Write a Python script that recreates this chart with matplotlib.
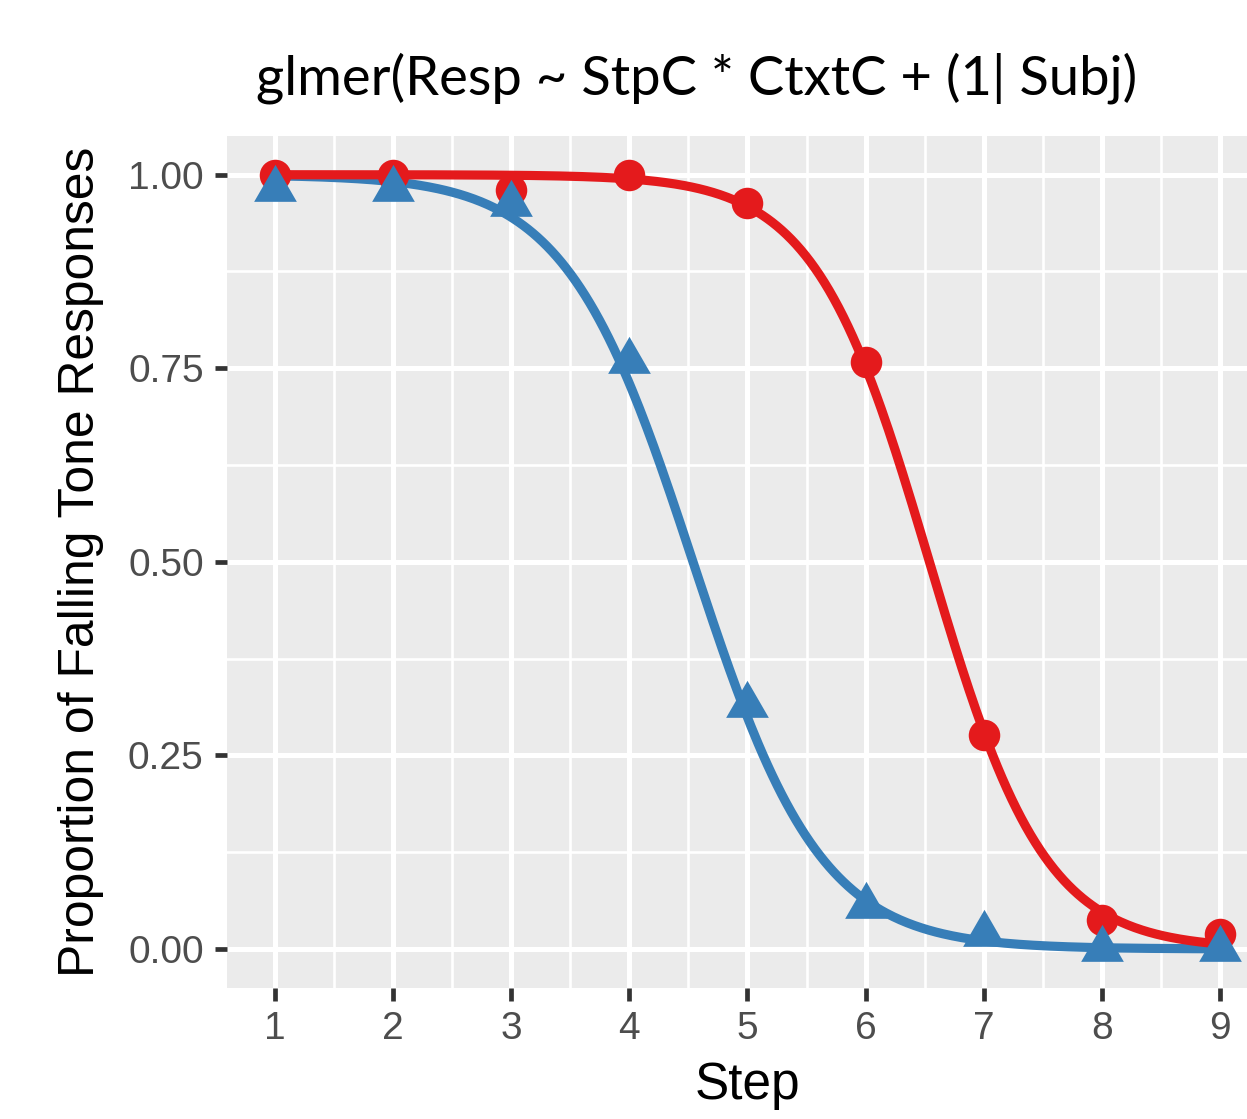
import numpy as np
import matplotlib.pyplot as plt
from matplotlib.path import Path

# data
steps = [1, 2, 3, 4, 5, 6, 7, 8, 9]
red_props = [1.00, 1.00, 0.98, 1.00, 0.963, 0.758, 0.277, 0.037, 0.020]
blue_props = [0.981, 0.981, 0.962, 0.759, 0.315, 0.056, 0.019, 0.0, 0.0]

# logistic fit lines (midpoint, slope on step scale)
red_fit = [6.54, 2.05]
blue_fit = [4.54, 1.85]

y_ticks = [0.0, 0.25, 0.5, 0.75, 1.0]
y_ticklabels = ['0.00', '0.25', '0.50', '0.75', '1.00']

title = 'glmer(Resp ~ StpC * CtxtC + (1| Subj)'
xlabel = 'Step'
ylabel = 'Proportion of Falling Tone Responses'

RED = '#E41A1C'
BLUE = '#377EB8'

# equilateral triangle like R's pch 17, centred on its centroid
tri = Path([(0, 1.555), (1.347, -0.778), (-1.347, -0.778), (0, 1.555)],
           [Path.MOVETO, Path.LINETO, Path.LINETO, Path.CLOSEPOLY])

plt.rcParams['font.family'] = ['Liberation Sans', 'DejaVu Sans']

fig = plt.figure(figsize=(12.47, 11.19), dpi=100)
ax = fig.add_axes([227.3 / 1247, 131.3 / 1119, 1040.2 / 1247, 851.7 / 1119])
ax.set_facecolor('#EBEBEB')
for s in ax.spines.values():
    s.set_visible(False)

ax.set_xlim(0.6, 9.4)
ax.set_ylim(-0.05, 1.05)
ax.set_xticks(steps)
ax.set_yticks(y_ticks)
ax.set_yticklabels(y_ticklabels)
ax.set_xticks(np.arange(1.5, 9.5, 1.0), minor=True)
ax.set_yticks(np.arange(0.125, 1.0, 0.25), minor=True)
ax.grid(True, which='major', color='white', linewidth=3.6)
ax.grid(True, which='minor', color='white', linewidth=1.9)
ax.set_axisbelow(True)
ax.tick_params(which='major', length=9, width=3.4, color='#333333',
               labelsize=28, labelcolor='#4D4D4D', pad=8)
ax.tick_params(which='minor', length=0)

xs = np.linspace(steps[0], steps[-1], 400)
red_curve = 1 / (1 + np.exp(red_fit[1] * (xs - red_fit[0])))
blue_curve = 1 / (1 + np.exp(blue_fit[1] * (xs - blue_fit[0])))
ax.plot(xs, blue_curve, color=BLUE, linewidth=6.6, solid_capstyle='butt', zorder=3)
ax.plot(xs, red_curve, color=RED, linewidth=6.6, solid_capstyle='butt', zorder=4)
ax.plot(steps, red_props, 'o', color=RED, markersize=22.7, markeredgewidth=0, zorder=5)
ax.plot(steps, blue_props, linestyle='none', marker=tri, color=BLUE,
        markersize=35.5, markeredgewidth=0, zorder=6)

ax.set_xlabel(xlabel, fontsize=37, color='black', labelpad=10)
ax.set_ylabel(ylabel, fontsize=35.8, color='black', labelpad=17)

fig.text(697 / 1247, 1 - 95 / 1119, title, fontsize=39.2, family=['Lato', 'DejaVu Sans'],
         ha='center', va='baseline')

fig.savefig('out.png', dpi=100)
